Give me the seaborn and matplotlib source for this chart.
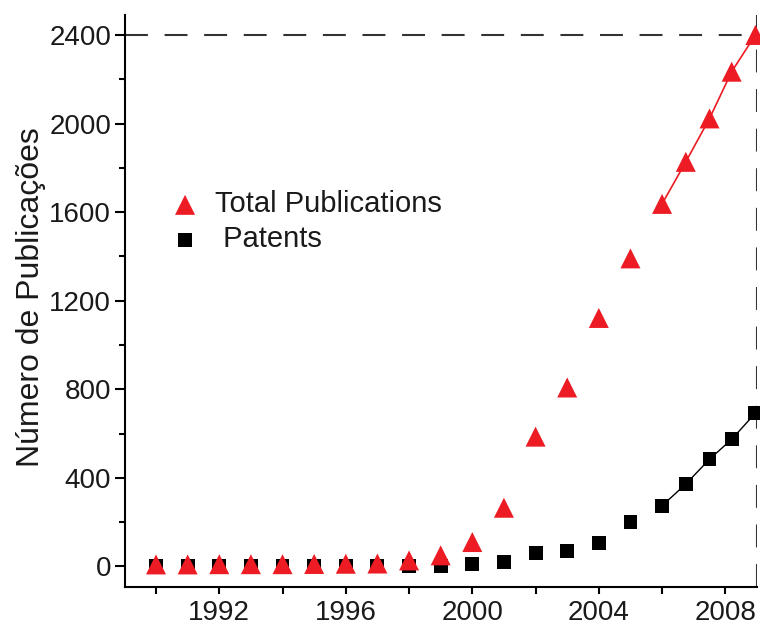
import numpy as np
import pandas as pd
import seaborn as sns
import matplotlib.pyplot as plt
from matplotlib.ticker import FixedLocator, MultipleLocator

# data
years = [1990, 1991, 1992, 1993, 1994, 1995, 1996, 1997, 1998, 1999,
         2000, 2001, 2002, 2003, 2004, 2005,
         2006, 2006.75, 2007.5, 2008.2, 2008.95]
total_pubs = [9, 9, 10, 10, 10, 11, 12, 13, 27, 50,
              110, 265, 586, 808, 1122, 1391,
              1637, 1827, 2023, 2234, 2400]
patents = [2, 2, 2, 2, 2, 2, 2, 2, 2, 0,
           12, 20, 60, 68, 107, 201,
           274, 372, 484, 574, 692]
n_fit = 5  # last points are joined by a line
x_ticks_labelled = [1992, 1996, 2000, 2004, 2008]
y_ticks = [0, 400, 800, 1200, 1600, 2000, 2400]

RED = "#ed1c24"
INK = "#1a1a1a"

df = pd.DataFrame({"year": years, "total": total_pubs, "patents": patents})

sns.set_theme(style="ticks")
plt.rcParams["font.family"] = ["Liberation Sans", "DejaVu Sans"]

fig = plt.figure(figsize=(7.6, 6.26), dpi=100)
ax = fig.add_axes([0.1645, 0.0623, 0.996 - 0.1645, 0.976 - 0.0623])

sns.scatterplot(data=df, x="year", y="total", marker="^", s=14.4 ** 2,
                color=RED, edgecolor="none", label="Total Publications",
                ax=ax, clip_on=False, zorder=4)
sns.scatterplot(data=df, x="year", y="patents", marker="s", s=10 ** 2,
                color="black", edgecolor="none", label=" Patents",
                ax=ax, clip_on=False, zorder=3)

tail = df.tail(n_fit)
sns.lineplot(data=tail, x="year", y="total", color=RED, lw=1.2, ax=ax,
             legend=False, zorder=2)
sns.lineplot(data=tail, x="year", y="patents", color="black", lw=1.0, ax=ax,
             legend=False, zorder=2)

ax.set_xlim(1989.02, 2009.0)
ax.set_ylim(-93, 2490)

# dashed guides to the last point
ax.axhline(2400, color="#333333", lw=1.5, ls=(0, (11, 8)), zorder=1)
ax.axvline(2009.0, color="#333333", lw=1.5, ls=(0, (11, 8)), zorder=1)

sns.despine(ax=ax, top=True, right=True)
for sp in ["left", "bottom"]:
    ax.spines[sp].set_linewidth(1.5)
    ax.spines[sp].set_color("black")

ax.xaxis.set_major_locator(FixedLocator(x_ticks_labelled))
ax.xaxis.set_minor_locator(MultipleLocator(2))
ax.set_xticklabels([str(t) for t in x_ticks_labelled])
ax.yaxis.set_major_locator(FixedLocator(y_ticks))
ax.yaxis.set_minor_locator(MultipleLocator(200))

ax.tick_params(axis="x", which="both", direction="out", length=5, width=1.5,
               labelsize=20, pad=4, color="black", labelcolor=INK)
ax.tick_params(axis="y", which="major", direction="out", length=7, width=1.5,
               labelsize=20, pad=3, color="black", labelcolor=INK)
ax.tick_params(axis="y", which="minor", direction="out", length=4.3, width=1.5,
               color="black")

ax.set_xlabel("")
ax.set_ylabel("Número de Publicações", fontsize=23, color=INK)
ax.yaxis.set_label_coords(-0.125, 0.507)

leg = ax.legend(loc="upper left", bbox_to_anchor=(0.2243, 0.6957),
                bbox_transform=fig.transFigure, frameon=False, fontsize=21,
                borderpad=0, borderaxespad=0, handlelength=1.0,
                handletextpad=0.53, labelspacing=0.24)
for t in leg.get_texts():
    t.set_color(INK)

fig.savefig("out.png", dpi=100)
